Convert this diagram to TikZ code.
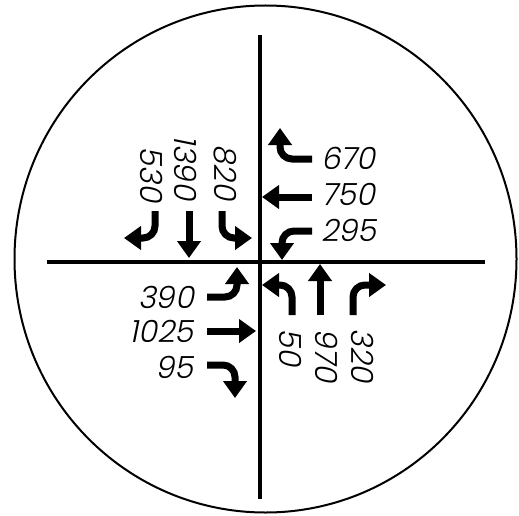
\documentclass[tikz,border=0pt]{standalone}
\usepackage{fontspec}
\setmainfont{Liberation Sans}
\newfontfamily\numfont{Poppins Light}[FakeSlant=0.2]
\usetikzlibrary{arrows.meta}
\begin{document}
\begin{tikzpicture}[x=1pt,y=-1pt,
  road/.style={line width=4.5pt},
  arr/.style={line width=7pt, -{Triangle[width=23pt,length=17pt]}, rounded corners=12pt},
  num/.style={font=\numfont\fontsize{30.5}{30.5}\selectfont, inner sep=0pt}]
\useasboundingbox (0,0) rectangle (519,516);
\draw[line width=2pt] (265.5,259) ellipse [x radius=251, y radius=253.5];
% roads
\coordinate (nt) at (260,35);
\coordinate (nb) at (260,499);
\coordinate (wl) at (47,262);
\coordinate (wr) at (485,262);
\draw[road] (nt) -- (nb);
\draw[road] (wl) -- (wr);
% arrows
\draw[arr] (155,211) |- (124,238);
\draw[arr] (189,211) -- (189,258);
\draw[arr] (222,211) |- (252,238);
\draw[arr] (312,159) -| (280,128);
\draw[arr] (312,197) -- (262,197);
\draw[arr] (312,231) -| (282,260);
\draw[arr] (207,297) -| (237,267);
\draw[arr] (207,331) -- (256,331);
\draw[arr] (207,365) -| (235,398);
\draw[arr] (292,315) |- (262,285);
\draw[arr] (320,315) -- (320,264);
\draw[arr] (353,315) |- (386,285);
% labels
\node[num, rotate=-90, anchor=east] (t530) at (152,202) {530};
\node[num, rotate=-90, anchor=east] (t1390) at (186,200) {1390};
\node[num, rotate=-90, anchor=east] (t820) at (225,200) {820};
\node[num, anchor=west] (t670) at (321,158) {670};
\node[num, anchor=west] (t750) at (321,194) {750};
\node[num, anchor=west] (t295) at (321,230) {295};
\node[num, anchor=east] (t390) at (194,297) {390};
\node[num, anchor=east] (t1025) at (194,331) {1025};
\node[num, anchor=east] (t95) at (194,367) {95};
\node[num, rotate=-90, anchor=west] (t50) at (291,328) {50};
\node[num, rotate=-90, anchor=west] (t970) at (327,328) {970};
\node[num, rotate=-90, anchor=west] (t320) at (363,328) {320};
\end{tikzpicture}
\end{document}
